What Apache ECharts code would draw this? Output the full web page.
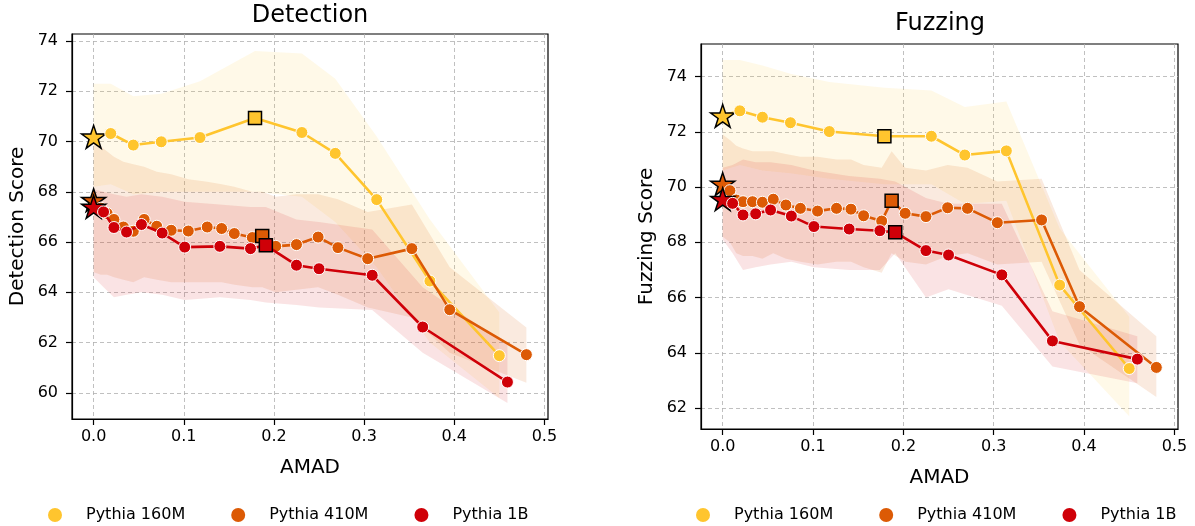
<!DOCTYPE html>
<html>
<head>
<meta charset="utf-8">
<title>Detection / Fuzzing vs AMAD</title>
<script src="https://cdn.jsdelivr.net/npm/echarts@6/dist/echarts.min.js"></script>
<style>
  html, body { margin: 0; padding: 0; background: #fff; }
  #chart { width: 1195px; height: 526px; }
</style>
</head>
<body>
<div id="chart"></div>
<script>
// AMAD (x) per model
const amad160 = [0, 0.019, 0.044, 0.075, 0.118, 0.179, 0.231, 0.268, 0.314, 0.373, 0.450]
const amad410 = [0, 0.008, 0.015, 0.0225, 0.033, 0.044, 0.056, 0.070, 0.086, 0.105, 0.126, 0.142,
  0.156, 0.176, 0.187, 0.202, 0.225, 0.249, 0.271, 0.304, 0.353, 0.395, 0.480]
const amad1b = [0, 0.011, 0.0225, 0.0365, 0.053, 0.076, 0.101, 0.140, 0.174, 0.191, 0.225, 0.250,
  0.309, 0.365, 0.459]

// Detection score
const det160 = [70.19, 70.32, 69.86, 69.99, 70.16, 70.94, 70.36, 69.53, 67.69, 64.45, 61.48]
const det160Hi = [72.3, 72.3, 71.8, 71.9, 72.4, 73.6, 73.5, 72.5, 70.2, 66.9, 63.2]
const det160Lo = [68.2, 68.3, 67.9, 68.0, 68.0, 68.0, 67.8, 66.8, 65.0, 62.0, 59.8]

const det410 = [67.67, 67.35, 67.14, 66.90, 66.60, 66.43, 66.90, 66.63, 66.47, 66.44, 66.60, 66.54,
  66.34, 66.18, 66.24, 65.83, 65.90, 66.20, 65.78, 65.34, 65.74, 63.31, 61.52]
const det410Hi = [70.0, 69.8, 69.6, 69.4, 69.2, 69.1, 69.0, 68.8, 68.7, 68.5, 68.4, 68.3,
  68.2, 68.0, 68.0, 67.8, 67.9, 67.9, 67.7, 67.2, 67.5, 65.0, 62.6]
const det410Lo = [64.8, 64.7, 64.7, 64.6, 64.5, 64.4, 64.6, 64.5, 64.4, 64.4, 64.4, 64.4,
  64.3, 64.2, 64.2, 64.0, 64.1, 64.2, 63.9, 63.4, 63.0, 61.6, 60.4]

const det1b = [67.40, 67.20, 66.58, 66.40, 66.70, 66.36, 65.80, 65.83, 65.74, 65.87, 65.08, 64.94,
  64.68, 62.62, 60.43]
const det1bHi = [68.1, 68.0, 67.9, 67.8, 67.9, 67.8, 67.6, 67.5, 67.4, 67.4, 66.9, 66.8, 66.5, 64.2, 61.9]
const det1bLo = [64.6, 64.2, 63.8, 63.9, 64.0, 63.9, 63.7, 63.8, 63.7, 63.6, 63.5, 63.4, 63.3, 61.6, 59.6]

// Fuzzing score
const fuz160 = [72.58, 72.76, 72.53, 72.33, 72.01, 71.84, 71.84, 71.16, 71.31, 66.45, 63.43]
const fuz160Hi = [74.6, 74.6, 74.4, 74.1, 73.8, 73.6, 73.5, 72.9, 73.1, 68.5, 65.3]
const fuz160Lo = [70.6, 70.8, 70.6, 70.5, 70.3, 70.1, 70.1, 69.4, 69.5, 64.4, 61.7]

const fuz410 = [70.11, 69.87, 69.53, 69.47, 69.47, 69.45, 69.56, 69.35, 69.23, 69.13, 69.23, 69.20,
  68.96, 68.77, 69.50, 69.05, 68.93, 69.25, 69.23, 68.71, 68.81, 65.67, 63.47]
const fuz410Hi = [71.9, 71.7, 71.5, 71.4, 71.3, 71.3, 71.3, 71.2, 71.1, 71.1, 71.0, 71.0,
  70.8, 70.7, 71.3, 70.7, 70.6, 70.8, 70.7, 70.2, 70.3, 67.0, 64.6]
const fuz410Lo = [68.2, 68.0, 67.6, 67.5, 67.5, 67.4, 67.6, 67.4, 67.3, 67.2, 67.3, 67.3,
  67.1, 66.9, 67.6, 67.3, 67.2, 67.5, 67.6, 67.2, 67.3, 64.3, 62.4]

const fuz1b = [69.56, 69.41, 68.99, 69.03, 69.17, 68.95, 68.57, 68.48, 68.42, 68.36, 67.70, 67.54,
  66.82, 64.43, 63.77]
const fuz1bHi = [70.7, 70.8, 71.0, 70.9, 70.9, 70.8, 70.6, 70.4, 70.3, 70.2, 69.6, 69.4, 69.4, 65.5, 64.6]
const fuz1bLo = [68.1, 67.6, 67.0, 67.1, 67.2, 67.3, 67.1, 67.0, 67.0, 67.6, 66.0, 66.3, 65.7, 63.5, 62.9]

// tick labels
const xTicks = [0, 0.1, 0.2, 0.3, 0.4, 0.5]
const detTicks = [60, 62, 64, 66, 68, 70, 72, 74]
const fuzTicks = [62, 64, 66, 68, 70, 72, 74]

const models = ['Pythia 160M', 'Pythia 410M', 'Pythia 1B']
const colors = ['#ffc52e', '#dc5a05', '#cf0008']
const bandColors = ['rgba(255,197,46,0.11)', 'rgba(220,90,5,0.13)', 'rgba(207,0,8,0.11)']
// index of the square marker in each model's series
const squareIdx = [5, 14, 9]

const font = 'DejaVu Sans'

// 5 point star like matplotlib '*'
const starSymbol = (() => {
  let s = ''
  for (let i = 0; i < 10; i++) {
    const a = -Math.PI / 2 + (i * Math.PI) / 5
    const r = i % 2 ? 0.382 : 1
    s += (i ? 'L' : 'M') + (r * Math.cos(a)).toFixed(3) + ' ' + (r * Math.sin(a)).toFixed(3)
  }
  return 'path://' + s + 'Z'
})()

const bandSeries = (g, xs, lo, hi, color) => ({
  type: 'custom',
  xAxisIndex: g,
  yAxisIndex: g,
  z: 1,
  silent: true,
  data: xs.map((x, i) => [x, lo[i], hi[i]]),
  encode: { x: 0, y: [1, 2] },
  renderItem: (params, api) => {
    if (params.dataIndex !== 0) return
    const pts = []
    for (let i = 0; i < xs.length; i++) pts.push(api.coord([xs[i], hi[i]]))
    for (let i = xs.length - 1; i >= 0; i--) pts.push(api.coord([xs[i], lo[i]]))
    return { type: 'polygon', shape: { points: pts }, style: { fill: color } }
  }
})

const lineSeries = (g, k, xs, ys) => ({
  name: models[k],
  type: 'line',
  xAxisIndex: g,
  yAxisIndex: g,
  z: 3 + k,
  symbol: 'circle',
  symbolSize: 12,
  showAllSymbol: true,
  symbolKeepAspect: true,
  lineStyle: { width: 2.6, color: colors[k] },
  itemStyle: { color: colors[k], borderColor: '#fff', borderWidth: 1 },
  emphasis: { disabled: true },
  data: xs.map((x, i) => {
    const item = { value: [x, ys[i]] }
    if (i === 0) {
      item.symbol = starSymbol
      item.symbolSize = 24
      item.itemStyle = { borderColor: '#000', borderWidth: 1.5 }
    } else if (i === squareIdx[k]) {
      item.symbol = 'rect'
      item.symbolSize = 13
      item.itemStyle = { borderColor: '#000', borderWidth: 1.5 }
    }
    return item
  })
})

const xAxisFor = (g) => ({
  type: 'value',
  gridIndex: g,
  min: -0.024,
  max: 0.504,
  name: 'AMAD',
  nameLocation: 'middle',
  nameGap: 39,
  nameTextStyle: { fontSize: 20, color: '#000', fontFamily: font },
  axisLine: { show: true, onZero: false, lineStyle: { color: '#000', width: 1.2 } },
  axisTick: { show: true, length: 6, customValues: xTicks, lineStyle: { color: '#000', width: 1.2 } },
  axisLabel: {
    customValues: xTicks,
    margin: 10,
    fontSize: 16,
    color: '#000',
    fontFamily: font,
    formatter: (v) => v.toFixed(1)
  },
  splitLine: { show: true, lineStyle: { color: '#b0b0b0', type: [4, 3], width: 0.8 } }
})

const yAxisFor = (g, name, min, max, ticks) => ({
  type: 'value',
  gridIndex: g,
  min: min,
  max: max,
  name: name,
  nameLocation: 'middle',
  nameGap: 44,
  nameTextStyle: { fontSize: 20, color: '#000', fontFamily: font },
  axisLine: { show: true, onZero: false, lineStyle: { color: '#000', width: 1.2 } },
  axisTick: { show: true, length: 6, customValues: ticks, lineStyle: { color: '#000', width: 1.2 } },
  axisLabel: { customValues: ticks, margin: 14, fontSize: 16, color: '#000', fontFamily: font },
  splitLine: { show: true, lineStyle: { color: '#b0b0b0', type: [4, 3], width: 0.8 } }
})

const legendFor = (left) => ({
  left: left,
  top: 502,
  icon: 'circle',
  itemWidth: 52,
  itemHeight: 14,
  itemGap: 46,
  selectedMode: false,
  data: models,
  itemStyle: { borderWidth: 0 },
  textStyle: { fontSize: 16, color: '#000', fontFamily: font }
})

const chart = echarts.init(document.getElementById('chart'))
chart.setOption({
  animation: false,
  textStyle: { fontFamily: font },
  title: [
    { text: 'Detection', left: 310, top: 4, textAlign: 'center', padding: 0,
      textStyle: { fontSize: 24, fontWeight: 'normal', color: '#000', fontFamily: font } },
    { text: 'Fuzzing', left: 940, top: 12, textAlign: 'center', padding: 0,
      textStyle: { fontSize: 24, fontWeight: 'normal', color: '#000', fontFamily: font } }
  ],
  legend: [legendFor(43), legendFor(691)],
  grid: [
    { left: 72, top: 34, width: 476, height: 385, show: true, borderColor: '#000', borderWidth: 1.2, backgroundColor: 'transparent' },
    { left: 701, top: 44, width: 477, height: 385, show: true, borderColor: '#000', borderWidth: 1.2, backgroundColor: 'transparent' }
  ],
  xAxis: [xAxisFor(0), xAxisFor(1)],
  yAxis: [
    yAxisFor(0, 'Detection Score', 58.96, 74.28, detTicks),
    yAxisFor(1, 'Fuzzing Score', 61.24, 75.18, fuzTicks)
  ],
  series: [
    bandSeries(0, amad160, det160Lo, det160Hi, bandColors[0]),
    bandSeries(0, amad410, det410Lo, det410Hi, bandColors[1]),
    bandSeries(0, amad1b, det1bLo, det1bHi, bandColors[2]),
    lineSeries(0, 0, amad160, det160),
    lineSeries(0, 1, amad410, det410),
    lineSeries(0, 2, amad1b, det1b),
    bandSeries(1, amad160, fuz160Lo, fuz160Hi, bandColors[0]),
    bandSeries(1, amad410, fuz410Lo, fuz410Hi, bandColors[1]),
    bandSeries(1, amad1b, fuz1bLo, fuz1bHi, bandColors[2]),
    lineSeries(1, 0, amad160, fuz160),
    lineSeries(1, 1, amad410, fuz410),
    lineSeries(1, 2, amad1b, fuz1b)
  ]
})
</script>
</body>
</html>
